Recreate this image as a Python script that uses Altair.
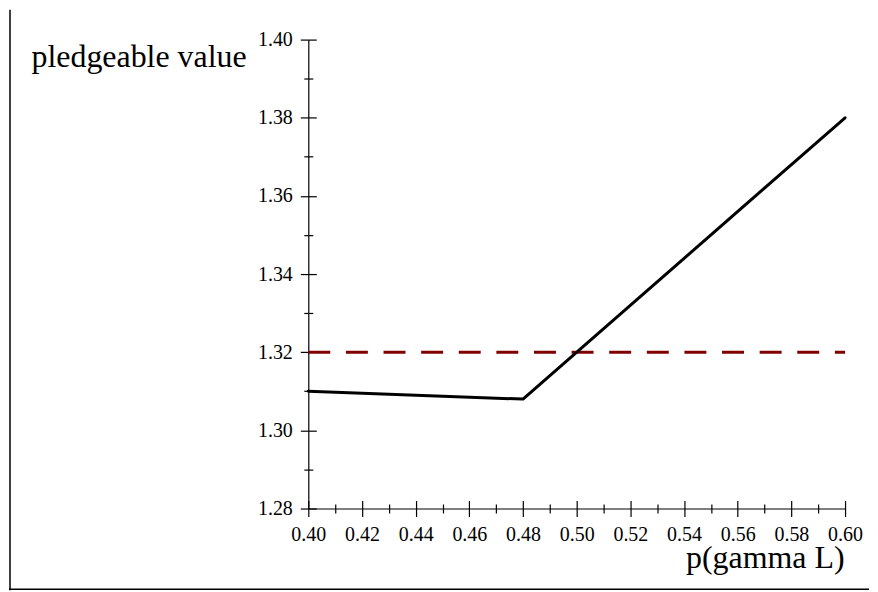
import altair as alt
import pandas as pd

# ---- data ----
p_gamma = [0.40, 0.48, 0.60]
pledgeable = [1.310, 1.308, 1.380]
threshold_x = [0.40, 0.60]
threshold_y = [1.32, 1.32]

x_domain = [0.40, 0.60]
y_domain = [1.28, 1.40]
x_tick_values = [0.40, 0.41, 0.42, 0.43, 0.44, 0.45, 0.46, 0.47, 0.48, 0.49, 0.50,
                 0.51, 0.52, 0.53, 0.54, 0.55, 0.56, 0.57, 0.58, 0.59, 0.60]
y_tick_values = [1.28, 1.29, 1.30, 1.31, 1.32, 1.33, 1.34, 1.35, 1.36, 1.37, 1.38,
                 1.39, 1.40]

# ---- layout ----
W, H = 862, 582
X0, X1 = 300, 838     # pixel range of x scale inside the view
Y0, Y1 = 500, 30      # pixel range of y scale (bottom, top)
FONT = "Liberation Serif"

major = "round(datum.value * 100) % 2 == 0"
tick_size = {"condition": {"test": major, "value": 8}, "value": 4.5}
label_expr = f"{major} ? format(datum.value, '.2f') : ''"

xs = alt.Scale(domain=x_domain, range=[X0, X1], nice=False, zero=False)
ys = alt.Scale(domain=y_domain, range=[Y0, Y1], nice=False, zero=False)

common_axis = dict(
    grid=False, tickColor="black", tickWidth=1.2, tickSize=tick_size,
    domainColor="black", domainWidth=1.2,
    labelFont=FONT, labelFontSize=20, labelColor="black", labelPadding=8,
    labelOverlap=False, labelFlush=False, labelBound=False,
)

line_df = pd.DataFrame({"p": p_gamma, "v": pledgeable})
thr_df = pd.DataFrame({"p": threshold_x, "v": threshold_y})

curve = alt.Chart(line_df).mark_line(
    color="black", strokeWidth=3, strokeJoin="round", strokeCap="round"
).encode(
    x=alt.X("p:Q", scale=xs, axis=alt.Axis(
        orient="bottom", offset=-(H - Y0), values=x_tick_values, labelExpr=label_expr,
        title="p(gamma L)", titleFont=FONT, titleFontSize=32, titleFontWeight="normal",
        titleColor="black", titleAlign="right", titleBaseline="alphabetic",
        titleX=837, titleY=59, **common_axis)),
    y=alt.Y("v:Q", scale=ys, axis=alt.Axis(
        orient="left", offset=-X0, values=y_tick_values, labelExpr=label_expr,
        title="pledgeable value", titleFont=FONT, titleFontSize=32,
        titleFontWeight="normal", titleColor="black", titleAngle=0,
        titleAlign="left", titleBaseline="alphabetic",
        titleX=-278, titleY=57, **common_axis)),
)

inner_axis = dict(
    grid=False, tickColor="black", tickWidth=1.2, tickSize=tick_size,
    domain=False, labels=False, title=None,
)

threshold = alt.Chart(thr_df).mark_line(
    color="#800000", strokeWidth=3, strokeDash=[22, 15.7]
).encode(
    x=alt.X("p:Q", scale=xs, axis=alt.Axis(
        orient="top", offset=-Y0, values=x_tick_values, **inner_axis)),
    y=alt.Y("v:Q", scale=ys, axis=alt.Axis(
        orient="right", offset=-(W - X0), values=y_tick_values, **inner_axis)),
)

frame_left = alt.Chart(pd.DataFrame({"k": [0]})).mark_rule(
    color="black", strokeWidth=1.5
).encode(x=alt.value(1), y=alt.value(0), y2=alt.value(H))

frame_bottom = alt.Chart(pd.DataFrame({"k": [0]})).mark_rule(
    color="black", strokeWidth=1.5
).encode(x=alt.value(0), x2=alt.value(W), y=alt.value(H - 1))

chart = alt.layer(threshold, curve, frame_left, frame_bottom).resolve_axis(
    x="independent", y="independent"
).properties(
    width=W, height=H, padding=0, background="white"
).configure_view(stroke=None)

chart.save("out.html", embed_options={"renderer": "svg", "actions": False})
